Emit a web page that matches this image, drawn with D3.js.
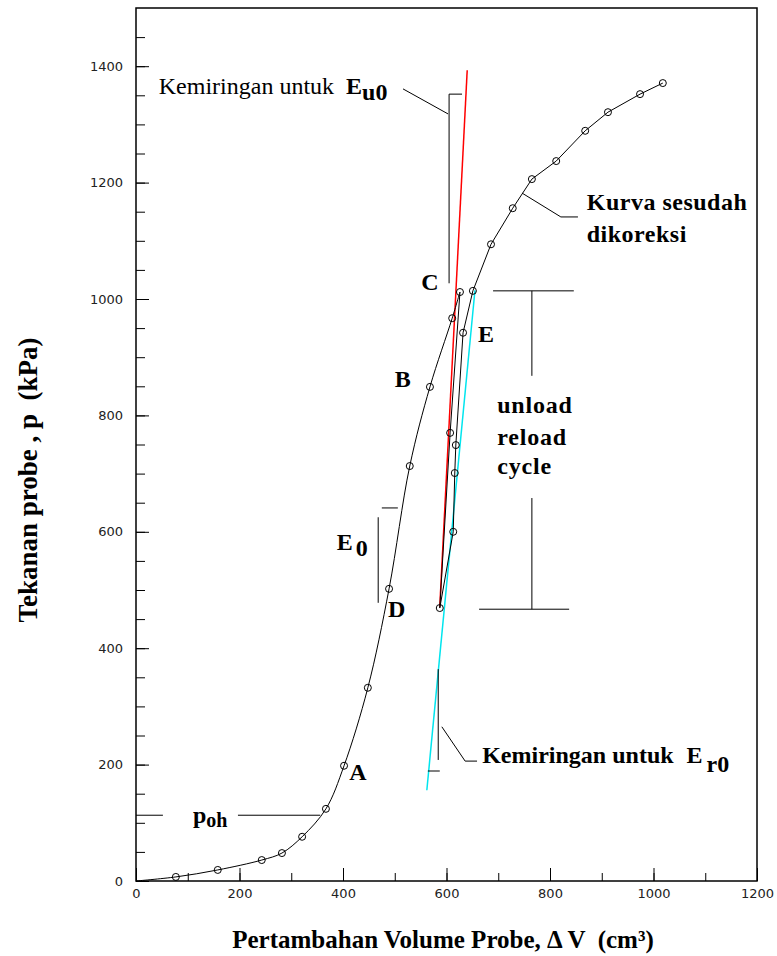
<html>
  <head>
    <style>
      body { margin: 0; background: #fff; }
      .tick-label text { font-family: "DejaVu Sans", sans-serif; font-size: 13px; fill: #222; }
      .ann { font-family: "Liberation Serif", "Times New Roman", serif; font-size: 24px; fill: #000; }
      .bold { font-weight: bold; }
      .axis-title { font-family: "Liberation Serif", "Times New Roman", serif; font-weight: bold; }
    </style>
  </head>
  <body>
    <div id="chart"></div>
    <script src="https://d3js.org/d3.v7.min.js"></script>
    <script>
      // loading curve, origin to C
      var loadX = [0, 77, 158, 243, 282, 321, 367, 402, 448, 489, 529, 568, 611, 626];
      var loadY = [0, 7, 19, 36, 48, 76, 124, 198, 332, 502, 713, 849, 967, 1012];
      // unload C -> D
      var unloadX = [626, 607, 587];
      var unloadY = [1012, 770, 469];
      // reload D -> E
      var reloadX = [587, 613, 616, 618, 632, 651];
      var reloadY = [469, 600, 701, 749, 942, 1014];
      // after reload, E -> end
      var postX = [651, 686, 728, 765, 812, 868, 912, 974, 1018];
      var postY = [1014, 1094, 1156, 1206, 1237, 1289, 1321, 1352, 1371];
      // slope lines
      var eu0X = [587, 640], eu0Y = [471, 1393];
      var er0X = [562, 655], er0Y = [156, 1015];

      var xTickVals = [0, 200, 400, 600, 800, 1000, 1200];
      var yTickVals = [0, 200, 400, 600, 800, 1000, 1200, 1400];

      var width = 777, height = 956;
      var x = d3.scaleLinear().domain([0, 1200]).range([136, 757]);
      var y = d3.scaleLinear().domain([0, 1500]).range([881, 8]);

      var svg = d3.select('#chart').append('svg')
        .attr('width', width).attr('height', height);

      function pts(xs, ys) { return xs.map(function(v, i) { return [v, ys[i]]; }); }

      // minor ticks
      svg.append('g').attr('transform', 'translate(0,' + y(0) + ')')
        .call(d3.axisBottom(x).tickValues(d3.range(100, 1200, 100)).tickSize(-8).tickFormat(''))
        .call(g => g.select('.domain').remove());
      svg.append('g').attr('transform', 'translate(' + x(0) + ',0)')
        .call(d3.axisLeft(y).tickValues(d3.range(50, 1500, 50)).tickSize(-9).tickFormat(''))
        .call(g => g.select('.domain').remove());

      // major ticks
      svg.append('g').attr('class', 'tick-label').attr('transform', 'translate(0,' + y(0) + ')')
        .call(d3.axisBottom(x).tickValues(xTickVals).tickSize(-13).tickPadding(8).tickFormat(d3.format('d')))
        .call(g => g.select('.domain').remove());
      svg.append('g').attr('class', 'tick-label').attr('transform', 'translate(' + x(0) + ',0)')
        .call(d3.axisLeft(y).tickValues(yTickVals).tickSize(-13).tickPadding(13).tickFormat(d3.format('d')))
        .call(g => g.select('.domain').remove());
      svg.selectAll('.tick line').attr('stroke', '#000');

      // frame
      svg.append('rect')
        .attr('x', x(0)).attr('y', y(1500))
        .attr('width', x(1200) - x(0)).attr('height', y(0) - y(1500))
        .attr('fill', 'none').attr('stroke', '#000').attr('stroke-width', 1.5);

      var lineLin = d3.line().x(d => x(d[0])).y(d => y(d[1]));
      var lineSmooth = d3.line().x(d => x(d[0])).y(d => y(d[1])).curve(d3.curveCatmullRom);

      // slope lines
      svg.append('path').attr('d', lineLin(pts(eu0X, eu0Y)))
        .attr('stroke', '#ff0000').attr('stroke-width', 1.5).attr('fill', 'none');
      svg.append('path').attr('d', lineLin(pts(er0X, er0Y)))
        .attr('stroke', '#00e5ee').attr('stroke-width', 1.5).attr('fill', 'none');

      // curves
      svg.append('path').attr('d', lineSmooth(pts(loadX, loadY)))
        .attr('stroke', '#000').attr('fill', 'none');
      svg.append('path').attr('d', lineLin(pts(unloadX, unloadY)))
        .attr('stroke', '#000').attr('fill', 'none');
      svg.append('path').attr('d', lineLin(pts(reloadX, reloadY)))
        .attr('stroke', '#000').attr('fill', 'none');
      svg.append('path').attr('d', lineLin(pts(postX, postY)))
        .attr('stroke', '#000').attr('fill', 'none');

      var markers = pts(loadX, loadY).slice(1)
        .concat(pts(unloadX, unloadY).slice(1, 2))
        .concat(pts(reloadX, reloadY))
        .concat(pts(postX, postY).slice(1));
      svg.selectAll('circle.m').data(markers).enter().append('circle')
        .attr('class', 'm')
        .attr('cx', d => x(d[0])).attr('cy', d => y(d[1])).attr('r', 3.5)
        .attr('fill', 'none').attr('stroke', '#000');

      // annotation lines (data units)
      var annLines = [
        [[516, 1361], [603, 1318]],
        [[630, 1352], [605, 1352], [605, 1027]],
        [[746, 1182], [821, 1141], [854, 1141]],
        [[690, 1014], [846, 1014]],
        [[765, 1014], [765, 868]],
        [[765, 658], [765, 467]],
        [[663, 467], [837, 467]],
        [[506, 641], [475, 641]],
        [[468, 625], [468, 478]],
        [[0, 113], [52, 113]],
        [[197, 113], [356, 113]],
        [[584, 364], [584, 208]],
        [[564, 189], [587, 189]],
        [[591, 265], [636, 206], [659, 206]]
      ];
      svg.selectAll('path.ann-line').data(annLines).enter().append('path')
        .attr('class', 'ann-line')
        .attr('d', d => lineLin(d))
        .attr('stroke', '#000').attr('fill', 'none');

      function label(xv, yv, txt, bold) {
        return svg.append('text').attr('class', 'ann' + (bold ? ' bold' : ''))
          .attr('x', x(xv)).attr('y', y(yv)).text(txt);
      }

      var t1 = label(44, 1352, 'Kemiringan untuk', false);
      t1.append('tspan').attr('font-weight', 'bold').attr('dx', 12).text('E');
      t1.append('tspan').attr('font-weight', 'bold').attr('dy', 6).text('u0');

      var t2 = label(669, 203, 'Kemiringan untuk', true);
      t2.append('tspan').attr('dx', 13).text('E');
      t2.append('tspan').attr('dx', 4).attr('dy', 9).text('r0');

      label(871, 1153, 'Kurva sesudah', true).attr('letter-spacing', 0.5);
      label(871, 1098, 'dikoreksi', true).attr('letter-spacing', 0.5);

      label(698, 804, 'unload', true).attr('font-size', 26).attr('letter-spacing', 0.8);
      label(698, 749, 'reload', true).attr('font-size', 26).attr('letter-spacing', 0.8);
      label(698, 699, 'cycle', true).attr('font-size', 26).attr('letter-spacing', 0.8);

      label(551, 1015, 'C', true);
      label(661, 926, 'E', true);
      label(500, 849, 'B', true);
      label(412, 174, 'A', true);
      label(487, 454, 'D', true);

      var t3 = label(388, 569, 'E', true);
      t3.append('tspan').attr('dy', 6).attr('dx', 3).text('0');

      var t4 = label(110, 100, 'p', true).attr('font-size', 26);
      t4.append('tspan').attr('dy', 4).attr('font-size', 20).text('oh');

      // axis titles
      svg.append('text').attr('class', 'axis-title')
        .attr('x', 443).attr('y', 948).attr('font-size', 25)
        .attr('text-anchor', 'middle')
        .text('Pertambahan Volume Probe, \u0394 V \u00a0(cm\u00b3)');
      svg.append('text').attr('class', 'axis-title')
        .attr('transform', 'translate(37,' + 480 + ') rotate(-90)')
        .attr('font-size', 27).attr('text-anchor', 'middle')
        .text('Tekanan probe , p \u00a0(kPa)');
    </script>
  </body>
</html>
